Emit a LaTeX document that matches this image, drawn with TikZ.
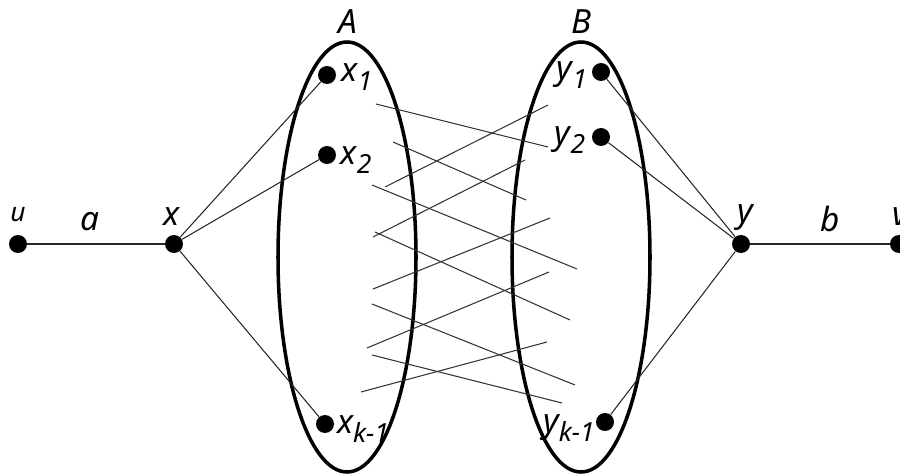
\documentclass[tikz,border=0pt]{standalone}
\usepackage{fontspec}
\setmainfont{Noto Sans}
\newcommand{\lbsub}[2]{\textit{#1}\raisebox{-0.55ex}{\fontsize{15}{17}\selectfont\textit{#2}}}
\begin{document}
\begin{tikzpicture}[x={(0.02cm,0)},y={(0,-0.02cm)},
  dot/.style={circle,fill=black,inner sep=0pt,minimum size=0.36cm},
  thin edge/.style={line width=0.6pt,black!85},
  cross/.style={line width=0.6pt,black!80},
  set/.style={line width=2pt},
  lab/.style={font=\fontsize{19}{22}\selectfont\itshape,inner sep=0pt},
  smalllab/.style={font=\fontsize{15}{17}\selectfont\itshape,inner sep=0pt}]
\useasboundingbox (0,0) rectangle (900,476);
% sets
\draw[set] (347,257) ellipse (69 and 215);
\draw[set] (581,257) ellipse (69 and 215);
\node[lab] (A) at (348,22) {A};
\node[lab] (B) at (582,22) {B};
% crossing lines
\draw[cross] (376,104) -- (548,147);
\draw[cross] (393,142) -- (526,200);
\draw[cross] (372,185) -- (577,269);
\draw[cross] (375,232) -- (570,320);
\draw[cross] (372,304) -- (575,385);
\draw[cross] (372,355) -- (562,403);
\draw[cross] (385,187) -- (548,105);
\draw[cross] (373,237) -- (525,160);
\draw[cross] (373,289) -- (550,218);
\draw[cross] (367,348) -- (549,272);
\draw[cross] (361,392) -- (547,342);
% vertices
\node[dot] (u) at (18,244) {};
\node[dot] (x) at (174,244) {};
\node[dot] (x1) at (327,75) {};
\node[dot] (x2) at (327,155) {};
\node[dot] (xk) at (325,424) {};
\node[dot] (y1) at (601,72) {};
\node[dot] (y2) at (601,137) {};
\node[dot] (yk) at (605,422) {};
\node[dot] (y) at (741,244) {};
\node[dot] (v) at (899,244) {};
% labels
\node[smalllab] (lu) at (18,215) {u};
\node[lab] (lx) at (172,217) {x};
\node[lab] (la) at (90,222) {a};
\node[lab] (ly) at (745,218) {y};
\node[lab] (lb) at (830,219) {b};
\node[lab] (lv) at (900,217) {v};
\node[lab] (lx1) at (357,77) {\lbsub{x}{1}};
\node[lab] (lx2) at (356,160) {\lbsub{x}{2}};
\node[lab] (lxk) at (363,429) {\lbsub{x}{k-1}};
\node[lab] (ly1) at (572,75) {\lbsub{y}{1}};
\node[lab] (ly2) at (570,140) {\lbsub{y}{2}};
\node[lab] (lyk) at (569,428) {\lbsub{y}{k-1}};
% edges
\draw[thin edge] (u) -- (x);
\draw[thin edge] (x) -- (x1);
\draw[thin edge] (x) -- (x2);
\draw[thin edge] (x) -- (xk);
\draw[thin edge] (y1) -- (y);
\draw[thin edge] (y2) -- (y);
\draw[thin edge] (yk) -- (y);
\draw[thin edge] (y) -- (v);
\end{tikzpicture}
\end{document}
